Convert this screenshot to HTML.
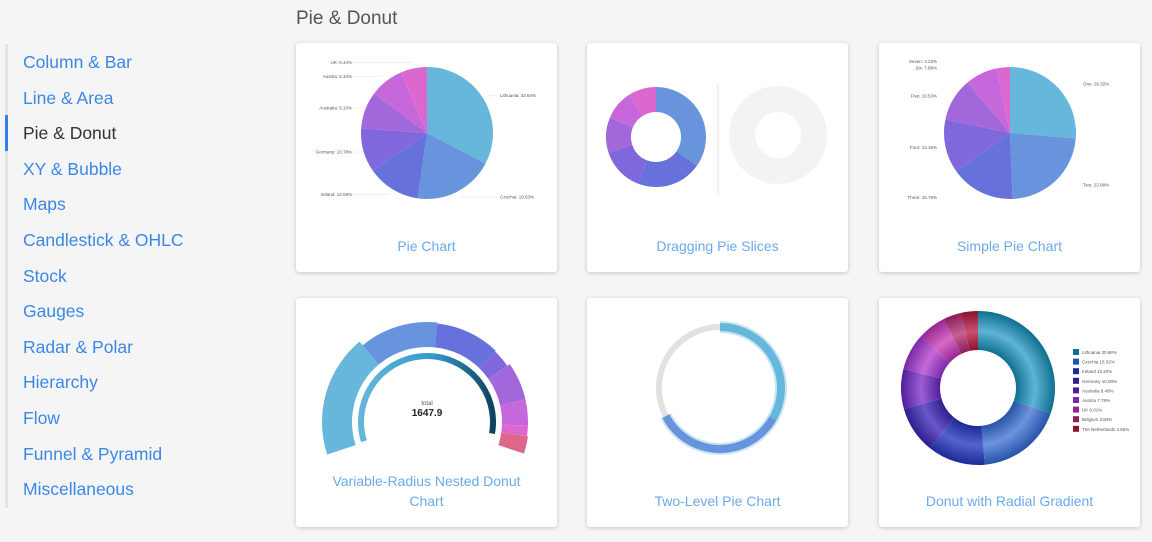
<!DOCTYPE html>
<html><head><meta charset="utf-8"><style>
body{margin:0;width:1152px;height:542px;background:#f5f5f5;font-family:"Liberation Sans",sans-serif;position:relative;overflow:hidden}
.side{position:absolute;left:5px;top:44px;width:3px;height:464px;background:#e4e4e4}
.act{position:absolute;left:5px;top:115px;width:3px;height:36px;background:#2f80e7}
.mi{position:absolute;left:23px;font-size:17.5px;color:#3b87e8;line-height:20px}
.mi.on{color:#333}
h1{position:absolute;left:296px;top:8px;margin:0;font-weight:normal;font-size:19px;color:#555}
.card{position:absolute;width:261px;height:229px;background:#fff;border-radius:3px;box-shadow:0 1px 5px rgba(0,0,0,.2)}
.ct{position:absolute;left:0;right:0;text-align:center;color:#6aaaea;font-size:14px;line-height:20px}
svg{position:absolute;left:0;top:0}
</style></head><body>
<div class="side"></div>
<div class="act"></div>
<div id="menu"></div>
<h1>Pie &amp; Donut</h1>
<div class="card" style="left:296px;top:43px"><div class="ct" style="top:193px">Pie Chart</div></div>
<div class="card" style="left:587px;top:43px"><div class="ct" style="top:193px">Dragging Pie Slices</div></div>
<div class="card" style="left:879px;top:43px"><div class="ct" style="top:193px">Simple Pie Chart</div></div>
<div class="card" style="left:296px;top:298px"><div class="ct" style="top:173px">Variable-Radius Nested Donut<br>Chart</div></div>
<div class="card" style="left:587px;top:298px"><div class="ct" style="top:193px">Two-Level Pie Chart</div></div>
<div class="card" style="left:879px;top:298px"><div class="ct" style="top:193px">Donut with Radial Gradient</div></div>
<svg id="s" width="1152" height="542" style="pointer-events:none"></svg>
<script>
const menuItems=["Column & Bar","Line & Area","Pie & Donut","XY & Bubble","Maps","Candlestick & OHLC","Stock","Gauges","Radar & Polar","Hierarchy","Flow","Funnel & Pyramid","Miscellaneous"];
const pieNames=["Lithuania","Czechia","Ireland","Germany","Australia","Austria","UK"];
const pieValues=[32.64,19.63,13.08,10.78,9.10,8.34,6.44];
const dragValues=[33.5,20.4,13.5,11.1,9.4,8.6];
const simpleNames=["One","Two","Three","Four","Five","Six","Seven"];
const simpleValues=[26.32,23.08,15.79,13.16,10.53,7.89,3.23];
const nestedValues=[68,46,38,11,22,15,6,10];
const nestedRadii=[105,100,99,98,101,101,101,102];
const twoLevelValues=[33.3,34.1,32.6];
const gradNames=["Lithuania","Czechia","Ireland","Germany","Australia","Austria","UK","Belgium","The Netherlands"];
const gradValues=[30.68,18.32,12.20,10.00,8.49,7.79,6.01,3.84,3.55];
const pal=["#67b7dc","#6794dc","#6771dc","#8067dc","#a367dc","#c767dc","#dc67ce","#dc6788"];
const gpal=["#0f6f8f","#2553a8","#1b2a94","#2c1f8e","#4f1f9a","#7a2aa6","#952590","#8a1d5a","#8c1030"];
const glight=["#5fb3d6","#6d93dd","#5562d0","#6a57c8","#9a5ed6","#c56ad8","#d56ac8","#c86090","#c85070"];

const menu=document.getElementById('menu');
menuItems.forEach((t,i)=>{const d=document.createElement('div');d.className='mi'+(i==2?' on':'');d.style.top=(52+i*35.6)+'px';d.textContent=t;


menu.appendChild(d);});

const S=document.getElementById('s'),NS='http://www.w3.org/2000/svg';
function el(tag,a,p){const e=document.createElementNS(NS,tag);for(const k in a)e.setAttribute(k,a[k]);(p||S).appendChild(e);return e;}
function pt(cx,cy,r,a){const t=a*Math.PI/180;return [cx+r*Math.sin(t),cy-r*Math.cos(t)];}
function arc(cx,cy,r0,r1,a0,a1){const l=(a1-a0)>180?1:0;const p1=pt(cx,cy,r1,a0),p2=pt(cx,cy,r1,a1);
 if(r0<=0){return `M${cx},${cy}L${p1}A${r1},${r1} 0 ${l} 1 ${p2}Z`;}
 const p3=pt(cx,cy,r0,a1),p4=pt(cx,cy,r0,a0);return `M${p1}A${r1},${r1} 0 ${l} 1 ${p2}L${p3}A${r0},${r0} 0 ${l} 0 ${p4}Z`;}
function slices(vals,cx,cy,r0,r1,cols,start,span,name){const tot=vals.reduce((a,b)=>a+b,0);let a=start||0;span=span||360;const out=[];
 vals.forEach((v,i)=>{const b=a+v/tot*span;const rr=Array.isArray(r1)?r1[i]:r1;const p=el('path',{d:arc(cx,cy,r0,rr,a,b),fill:cols[i%cols.length]});
 
 
 out.push([a,b]);a=b;});return out;}
function lbl(x,y,t,anchor,rot){const e=el('text',{x:x,y:y,'font-size':4.5,fill:'#555','text-anchor':anchor||'start',transform:rot?`rotate(${rot} ${x} ${y})`:''});e.textContent=t;
 
 }

// Pie 1
let ang=slices(pieValues,427,133,0,66,pal,0,360,'pie');
pieNames.forEach((n,i)=>{const m=(ang[i][0]+ang[i][1])/2;const p=pt(427,133,72,m);const right=m<180;
 const lx=right?500:352;el('line',{x1:right?p[0]:lx,y1:p[1],x2:right?lx-3:p[0],y2:p[1],stroke:'#eee','stroke-width':1});
 lbl(lx,p[1]+1.5,n+': '+pieValues[i].toFixed(2)+'%',right?'start':'end');});

// Dragging donut
slices(dragValues,656,137,25,50,pal.slice(1),0,360,'drag');
el('line',{x1:718,y1:85,x2:718,y2:195,stroke:'#ccc','stroke-dasharray':'1,1'});
el('path',{d:arc(778,135,23,49,0,359.99),fill:'#f3f3f3'});

// Simple pie
ang=slices(simpleValues,1010,133,0,66,pal,0,360,'simple');
simpleNames.forEach((n,i)=>{const m=(ang[i][0]+ang[i][1])/2;const p=pt(1010,133,72,m);const right=m<180;
 lbl(right?1083:937,p[1]+1.5,n+': '+simpleValues[i].toFixed(2)+'%',right?'start':'end');});

// Nested donut
slices(nestedValues,427,422,75,nestedRadii,pal,-108,216,'nested');
const g=el('linearGradient',{id:'ig',x1:0,y1:0,x2:1,y2:0},el('defs',{}));
el('stop',{offset:0,'stop-color':'#67b7dc'},g);el('stop',{offset:.55,'stop-color':'#3399cc'},g);el('stop',{offset:1,'stop-color':'#0d3f55'},g);
el('path',{d:arc(427,422,63,69,-107,100),fill:'url(#ig)'});
let t=el('text',{x:427,y:405,'font-size':6,fill:'#555','text-anchor':'middle'});t.textContent='total';
t=el('text',{x:427,y:416,'font-size':10,'font-weight':'bold',fill:'#222','text-anchor':'middle'});t.textContent='1647.9';

// Two-level
el('path',{d:arc(720,388,58,64,0,359.99),fill:'#e2e2e2'});
const tl=[0];twoLevelValues.forEach(v=>tl.push(tl[tl.length-1]+v/100*360));
el('path',{d:arc(720,388,55,67,tl[0],tl[2]),fill:'#c9e6f3'});
el('path',{d:arc(720,388,57,65,tl[0],tl[1]),fill:'#67b7dc'});
el('path',{d:arc(720,388,57,65,tl[1],tl[2]),fill:'#6794dc'});

// Radial gradient donut
const defs=el('defs',{});
gpal.forEach((c,i)=>{const r=el('radialGradient',{id:'rg'+i,gradientUnits:'userSpaceOnUse',cx:978,cy:388,r:77},defs);
 el('stop',{offset:.49,'stop-color':c},r);el('stop',{offset:.74,'stop-color':glight[i]},r);el('stop',{offset:1,'stop-color':c},r);});
slices(gradValues,978,388,38,77,gpal.map((c,i)=>'url(#rg'+i+')'),0,360,'gradient');
gradNames.forEach((n,i)=>{const y=349+i*9.6;const r=el('rect',{x:1073,y:y,width:6,height:6,fill:gpal[i]});
 
 
 lbl(1082,y+5,n+' '+gradValues[i].toFixed(2)+'%','start');});
</script>
</body></html>
